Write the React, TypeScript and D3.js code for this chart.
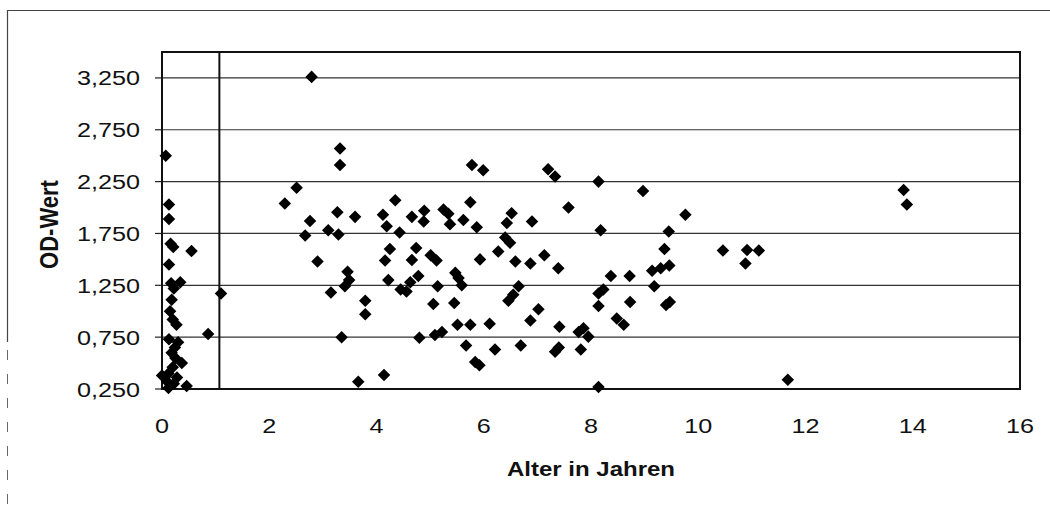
import React from "react";
import * as d3 from "d3";

// Alter (Jahre) und OD-Wert
const ageYears = [
  0.07, 0.13, 0.13, 0.16, 0.21, 0.55, 0.13, 0.17, 0.34, 0.22, 0.18, 0.15, 0.2, 0.27, 0.13, 0.3, 0.86, 0.18,
  0.25, 0.37, 0.2, 0.0, 0.12, 0.1, 0.46, 0.12, 0.22, 0.28, 0.24, 1.1,
  2.79, 3.32, 3.32, 2.51, 2.29, 4.35, 3.27, 3.6, 2.76, 4.12, 4.19, 3.1, 3.29, 2.67, 4.43, 4.25, 4.16, 2.9,
  3.46, 3.49, 3.41, 4.22, 4.45, 4.56, 3.15, 3.79, 3.79, 3.35, 4.14, 3.66,
  5.78, 5.99, 5.75, 4.66, 4.89, 4.88, 5.25, 5.34, 5.37, 5.62, 5.87, 6.52, 6.43, 6.9, 6.4, 6.49, 4.74, 4.66,
  5.01, 5.12, 5.93, 6.27, 6.59, 6.87, 7.13, 4.63, 4.78, 5.47, 5.53, 5.59, 5.14, 6.65, 6.55, 6.46, 5.06, 5.45,
  7.02, 6.87, 5.51, 5.75, 6.11, 4.8, 5.09, 5.22, 5.67, 6.21, 6.69, 5.84, 5.92,
  7.2, 7.33, 8.14, 8.97, 7.58, 9.76, 8.18, 9.45, 9.37, 7.39, 8.37, 8.72, 9.14, 9.3, 9.46, 9.18, 8.23, 8.14,
  8.14, 8.73, 9.4, 9.47, 8.48, 8.61, 7.41, 7.86, 7.95, 7.77, 7.33, 7.4, 7.81, 8.14,
  10.46, 10.91, 11.13, 10.88, 13.83, 13.89, 11.67,
];
const odValues = [
  2.5, 2.03, 1.89, 1.65, 1.62, 1.58, 1.45, 1.27, 1.28, 1.22, 1.11, 1.0, 0.92, 0.87, 0.73, 0.7, 0.78, 0.6,
  0.55, 0.5, 0.46, 0.38, 0.4, 0.32, 0.28, 0.26, 0.3, 0.36, 0.65, 1.17,
  3.26, 2.57, 2.41, 2.19, 2.04, 2.07, 1.955, 1.91, 1.87, 1.93, 1.82, 1.78, 1.74, 1.73, 1.76, 1.6, 1.49, 1.48,
  1.38, 1.3, 1.24, 1.3, 1.21, 1.19, 1.18, 1.1, 0.97, 0.75, 0.385, 0.32,
  2.41, 2.36, 2.05, 1.91, 1.97, 1.865, 1.98, 1.94, 1.84, 1.88, 1.81, 1.945, 1.85, 1.865, 1.71, 1.66, 1.61, 1.495,
  1.54, 1.49, 1.5, 1.575, 1.48, 1.46, 1.54, 1.28, 1.34, 1.37, 1.32, 1.25, 1.24, 1.24, 1.16, 1.1, 1.07, 1.08,
  1.02, 0.91, 0.87, 0.87, 0.88, 0.745, 0.77, 0.8, 0.67, 0.63, 0.67, 0.51, 0.48,
  2.37, 2.3, 2.25, 2.16, 2.0, 1.93, 1.78, 1.77, 1.6, 1.415, 1.34, 1.34, 1.39, 1.415, 1.44, 1.24, 1.21, 1.17,
  1.05, 1.09, 1.06, 1.09, 0.93, 0.87, 0.85, 0.835, 0.755, 0.8, 0.61, 0.65, 0.63, 0.27,
  1.585, 1.59, 1.585, 1.46, 2.17, 2.03, 0.34,
];

const xTicks = [0, 2, 4, 6, 8, 10, 12, 14, 16];
const yTicks = [0.25, 0.75, 1.25, 1.75, 2.25, 2.75, 3.25];
const yTickLabels = ["0,250", "0,750", "1,250", "1,750", "2,250", "2,750", "3,250"];
const dividerAge = 1.07;

const W = 1050;
const H = 509;
const margin = { top: 52, right: 30, bottom: 120, left: 162 };
const FONT = "'Liberation Sans', Arial, sans-serif";
const STRETCH = 1.2;

export default function App() {
  const x = d3.scaleLinear().domain([0, 16]).range([margin.left, W - margin.right]);
  const y = d3.scaleLinear().domain([0.25, 3.5]).range([H - margin.bottom, margin.top]);
  const diamond = d3.symbol().type(d3.symbolDiamond2).size(100)();

  const x0 = x(0), x1 = x(16), y0 = y(0.25), y1 = y(3.5);

  return (
    <svg width={W} height={H} style={{ position: "absolute", left: 0, top: 0, background: "#fff" }}>
      {/* outer frame (only top and left visible) */}
      <line x1={7} x2={W} y1={10.5} y2={10.5} stroke="#444" strokeWidth={1.2} />
      <line x1={7.5} x2={7.5} y1={10} y2={342} stroke="#444" strokeWidth={1.2} />
      <line x1={7.5} x2={7.5} y1={350} y2={H} stroke="#666" strokeWidth={1} strokeDasharray="10 14" />

      {/* gridlines */}
      {yTicks.slice(1).map((t) => (
        <line key={t} x1={x0} x2={x1} y1={y(t)} y2={y(t)} stroke="#333" strokeWidth={1.2} />
      ))}

      {/* y ticks + labels */}
      {yTicks.map((t, i) => (
        <g key={"yt" + t}>
          <line x1={x0 - 7} x2={x0} y1={y(t)} y2={y(t)} stroke="#222" strokeWidth={1.2} />
          <g transform={`translate(${x0 - 22},${y(t) + 7.5}) scale(${STRETCH},1)`}>
            <text textAnchor="end" fontFamily={FONT} fontSize={21} fill="#111">
              {yTickLabels[i]}
            </text>
          </g>
        </g>
      ))}

      {/* x tick labels */}
      {xTicks.map((t) => (
        <g key={"xt" + t} transform={`translate(${x(t)},${y0 + 44}) scale(${STRETCH},1)`}>
          <text textAnchor="middle" fontFamily={FONT} fontSize={21} fill="#111">
            {t}
          </text>
        </g>
      ))}

      {/* plot border */}
      <rect x={x0} y={y1} width={x1 - x0} height={y0 - y1} fill="none" stroke="#111" strokeWidth={2} />

      {/* divider line */}
      <line x1={x(dividerAge)} x2={x(dividerAge)} y1={y1} y2={y0} stroke="#111" strokeWidth={2} />

      {/* points */}
      {ageYears.map((a, i) => (
        <path key={i} d={diamond} transform={`translate(${x(a)},${y(odValues[i])})`} fill="#000" />
      ))}

      {/* axis titles */}
      <g transform={`translate(${(x0 + x1) / 2},${y0 + 87}) scale(${STRETCH},1)`}>
        <text textAnchor="middle" fontFamily={FONT} fontSize={20} fontWeight="bold" fill="#111">
          Alter in Jahren
        </text>
      </g>
      <g transform={`translate(58,${(y0 + y1) / 2 + 4}) scale(${STRETCH},1) rotate(-90)`}>
        <text textAnchor="middle" fontFamily={FONT} fontSize={22} fontWeight="bold" fill="#111">
          OD-Wert
        </text>
      </g>
    </svg>
  );
}
